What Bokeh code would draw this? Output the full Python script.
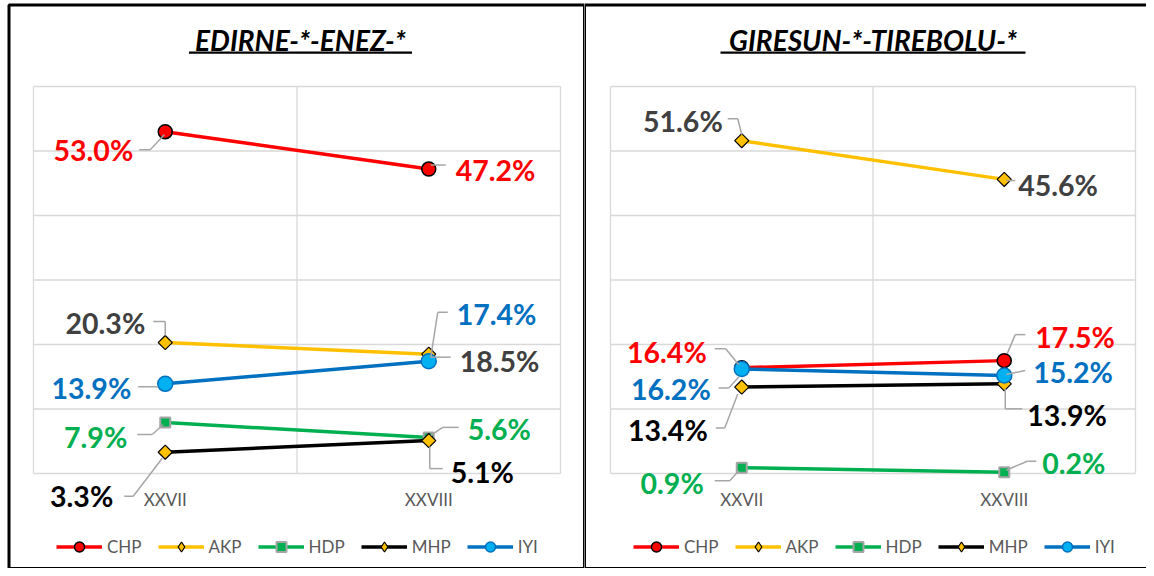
import numpy as np
from bokeh.plotting import figure
from bokeh.models import (ColumnDataSource, LabelSet, Label, BoxAnnotation,
                          Legend, LegendItem, Range1d)
from bokeh.layouts import row
from bokeh.embed import file_html
from bokeh.resources import INLINE
from bokeh.core.properties import value

# ---------------- data ----------------
categories = ["XXVII", "XXVIII"]
parties = ["CHP", "AKP", "HDP", "MHP", "IYI"]

edirne_title = "EDIRNE-*-ENEZ-*"
edirne_chp = [53.0, 47.2]
edirne_akp = [20.3, 18.5]
edirne_hdp = [7.9, 5.6]
edirne_mhp = [3.3, 5.1]
edirne_iyi = [13.9, 17.4]

giresun_title = "GIRESUN-*-TIREBOLU-*"
giresun_chp = [16.4, 17.5]
giresun_akp = [51.6, 45.6]
giresun_hdp = [0.9, 0.2]
giresun_mhp = [13.4, 13.9]
giresun_iyi = [16.2, 15.2]

y_max = 60
y_grid_step = 10

# ---------------- styles ----------------
STY = {
    "CHP": dict(line="#FF0000", marker="circle", size=14, angle=0.0, fill="#FF0000", mline="#000000", mlw=1.5, lab="#FF0000", leg="circle"),
    "AKP": dict(line="#FFC000", marker="square", size=10, angle=np.pi / 4, fill="#FFC000", mline="#000000", mlw=1.2, lab="#404040", leg="diamond"),
    "HDP": dict(line="#00B050", marker="square", size=10, angle=0.0, fill="#00B050", mline="#A5A5A5", mlw=2.0, lab="#00B050", leg="square"),
    "MHP": dict(line="#000000", marker="square", size=10, angle=np.pi / 4, fill="#FFC000", mline="#000000", mlw=1.2, lab="#000000", leg="diamond"),
    "IYI": dict(line="#0070C0", marker="circle", size=15, angle=0.0, fill="#00B0F0", mline="#0070C0", mlw=1.5, lab="#0070C0", leg="circle"),
}

# label placement (pixels relative to the point; y down): align, dx, dy, leader path
EDIRNE_LBL = {
    "CHP": [("right", -32, 18, [(-26, 18), (-15, 18), (-1, 3)]), ("left", 27, 1, [(2, -4), (17, -4)])],
    "AKP": [("right", -20, -20, [(-12, -21), (0, -21), (0, -7)]), ("left", 31, 7, [(2, 3), (22, 3)])],
    "HDP": [("right", -38, 14, [(-28, 12), (-13, 12), (-2, 2)]), ("left", 39, -8, [(2, -2), (14, -10), (30, -10)])],
    "MHP": [("right", -52, 44, [(-41, 44), (-32, 44), (-3, 6)]), ("left", 22, 31, [(1, 6), (1, 28), (14, 28)])],
    "IYI": [("right", -34, 4, [(-27, 3), (-7, 3)]), ("left", 28, -47, [(2, -4), (9, -49), (19, -49)])],
}
GIRESUN_LBL = {
    "CHP": [("right", -35, -16, [(-27, -19), (-16, -19), (-3, -3)]), ("left", 31, -24, [(3, -7), (11, -26), (21, -26)])],
    "AKP": [("right", -19, -20, [(-14, -22), (-4, -22), (0, -6)]), ("left", 14, 6, [(2, 1), (11, 1)])],
    "HDP": [("right", -38, 15, [(-27, 13), (-12, 13), (-3, 3)]), ("left", 38, -9, [(2, -2), (23, -11), (32, -11)])],
    "MHP": [("right", -34, 43, [(-26, 41), (-17, 41), (-4, 7)]), ("left", 23, 31, [(1, 5), (1, 25), (18, 25)])],
    "IYI": [("right", -31, 20, [(-23, 19), (-13, 19), (-3, 8)]), ("left", 29, -3, [(2, -1), (21, -5)])],
}

FONT = "Lato"
GRID = "#D9D9D9"
LEADER = "#A6A6A6"
CANVAS_H = 568


def make_panel(title, series, lbl, canvas_w, area_left, area_w, title_dx, title_w,
               border_left, border_right):
    canvas_h = CANVAS_H
    area_top, area_h = 86, 387
    ncat = len(categories)
    ppx = area_w / ncat
    ppy = area_h / y_max
    x0 = -area_left / ppx
    x1 = ncat + (canvas_w - area_left - area_w) / ppx
    y0 = -(canvas_h - area_top - area_h) / ppy
    y1 = y_max + area_top / ppy

    p = figure(width=canvas_w, height=canvas_h, min_border=0,
               x_range=Range1d(x0, x1), y_range=Range1d(y0, y1),
               x_axis_location=None, y_axis_location=None, toolbar_location=None,
               output_backend="svg", background_fill_color="white",
               border_fill_color="white")
    p.outline_line_color = None
    p.grid.visible = False

    xs = [i + 0.5 for i in range(ncat)]

    # plot-area grid
    gy = list(range(0, y_max + 1, y_grid_step))
    p.segment(x0=[0] * len(gy), x1=[ncat] * len(gy), y0=gy, y1=gy,
              line_color=GRID, line_width=1.3)
    gx = list(range(0, ncat + 1))
    p.segment(x0=gx, x1=gx, y0=[0] * len(gx), y1=[y_max] * len(gx),
              line_color=GRID, line_width=1.3)

    # category labels
    p.text(x=xs, y=[0] * ncat, text=categories, y_offset=26,
           text_align="center", text_baseline="middle",
           text_font=value(FONT), text_font_size="17px", text_color="#595959")

    items = []
    lab = dict(x=[], y=[], text=[], color=[], align=[])
    seg = dict(x0=[], y0=[], x1=[], y1=[])
    for party in parties:
        vals = series[party]
        s = STY[party]
        ln = p.line(xs, vals, line_color=s["line"], line_width=3.5)
        p.scatter(xs, vals, marker=s["marker"], size=s["size"], angle=s["angle"],
                  fill_color=s["fill"], line_color=s["mline"], line_width=s["mlw"])
        # legend-only marker (legend ignores marker rotation); NaN point is not drawn in the plot
        lg = p.scatter(x=[np.nan], y=[np.nan], marker=s["leg"], size=s["size"],
                       fill_color=s["fill"], line_color=s["mline"], line_width=s["mlw"])
        items.append(LegendItem(label=party, renderers=[ln, lg]))
        for x, v, (al, dx, dy, path) in zip(xs, vals, lbl[party]):
            lab["x"].append(x + dx / ppx)
            lab["y"].append(v - dy / ppy)
            lab["text"].append(f"{v:.1f}%")
            lab["color"].append(s["lab"])
            lab["align"].append(al)
            for (ax0, ay0), (ax1, ay1) in zip(path[:-1], path[1:]):
                seg["x0"].append(x + ax0 / ppx)
                seg["y0"].append(v - ay0 / ppy)
                seg["x1"].append(x + ax1 / ppx)
                seg["y1"].append(v - ay1 / ppy)

    p.segment(x0="x0", y0="y0", x1="x1", y1="y1", source=ColumnDataSource(seg),
              line_color=LEADER, line_width=1.5)

    for al in ("left", "right"):
        sub = {k: [v for v, a in zip(lab[k], lab["align"]) if a == al] for k in lab}
        p.add_layout(LabelSet(x="x", y="y", text="text", source=ColumnDataSource(sub),
                              text_align=al, text_baseline="middle",
                              text_color="color", text_font=value(FONT),
                              text_font_size="28.5px", text_font_style="bold"))

    legend = Legend(items=items, orientation="horizontal", location=(area_left + 23, 9.5),
                    glyph_width=46, glyph_height=25, label_height=25,
                    label_standoff=5, spacing=16, padding=0, margin=0,
                    border_line_color=None, background_fill_alpha=0,
                    label_text_font=FONT, label_text_font_size="17px",
                    label_text_color="#595959")
    p.add_layout(legend, "center")

    # title with underline
    tx = ncat / 2 + title_dx / ppx
    p.add_layout(Label(x=tx, y=y_max + 47 / ppy,
                       text=title, text_align="center", text_baseline="middle",
                       text_font=FONT, text_font_size="28px",
                       text_font_style="bold italic", text_color="#000000"))
    p.add_layout(BoxAnnotation(left=tx - title_w / 2 / ppx, right=tx + title_w / 2 / ppx,
                               bottom=y_max + 32.7 / ppy, top=y_max + 35 / ppy,
                               fill_color="#000000", fill_alpha=1.0, line_color=None))

    # panel border (screen units, frame == canvas)
    p.add_layout(BoxAnnotation(left=border_left, right=border_right,
                               top=canvas_h - 4.5, bottom=canvas_h - 568,
                               left_units="screen", right_units="screen",
                               top_units="screen", bottom_units="screen",
                               fill_color=None, fill_alpha=0, line_color="#000000",
                               line_alpha=1.0, line_width=3))
    return p


p1 = make_panel(edirne_title,
                {"CHP": edirne_chp, "AKP": edirne_akp, "HDP": edirne_hdp, "MHP": edirne_mhp, "IYI": edirne_iyi},
                EDIRNE_LBL, 584, 33, 527, 3.5, 223, 8.5, 584)
p2 = make_panel(giresun_title,
                {"CHP": giresun_chp, "AKP": giresun_akp, "HDP": giresun_hdp, "MHP": giresun_mhp, "IYI": giresun_iyi},
                GIRESUN_LBL, 562, 26, 525, 0, 305, 0, 600)

layout = row(p1, p2)
open("out.html", "w").write(file_html(layout, INLINE))
